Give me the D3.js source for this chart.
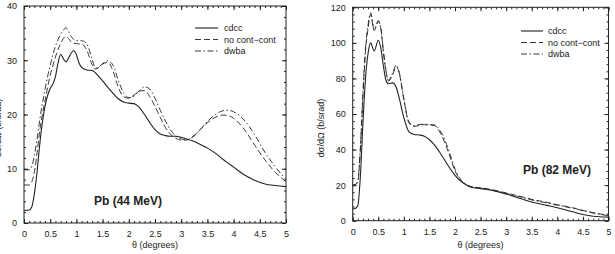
<!DOCTYPE html>
<html><head><meta charset="utf-8">
<script src="https://cdn.jsdelivr.net/npm/d3@7"></script>
<style>
html,body{margin:0;padding:0;background:#fff;}
svg{display:block;}
text{font-family:"Liberation Sans",Arial,Helvetica,sans-serif;fill:#222;}
</style></head>
<body>
<svg id="c" width="615" height="254"></svg>
<script>
// ---- data: Pb 44 MeV ----
const theta44 = [0,0.1,0.15,0.2,0.25,0.3,0.35,0.4,0.45,0.5,0.55,0.6,0.65,0.7,0.75,0.8,0.85,0.9,0.95,1.0,1.05,1.1,1.2,1.3,1.35,1.4,1.5,1.6,1.7,1.8,1.9,2.0,2.1,2.2,2.3,2.4,2.5,2.6,2.7,2.8,2.9,3.0,3.1,3.2,3.3,3.4,3.5,3.6,3.7,3.8,3.9,4.0,4.2,4.4,4.6,4.8,5.0];
const cdcc44 = [2.3,2.4,3.0,5.5,9.5,14.5,18.5,21.5,23.5,24.8,25.6,27.0,29.5,31.1,30.3,29.7,30.4,31.3,31.8,31.0,29.5,28.7,28.2,28.1,27.8,27.3,26.2,25.0,23.9,22.9,22.3,22.1,22.0,21.3,20.0,18.5,17.2,16.4,16.1,16.0,16.0,15.8,15.5,15.2,14.8,14.3,13.8,13.2,12.5,11.7,11.0,10.3,8.9,7.9,7.2,6.9,6.7];
const noCC44 = [7.0,7.0,7.6,9.5,13.0,17.0,20.0,22.5,25.0,27.2,29.0,30.6,32.0,33.1,34.0,34.4,34.0,33.4,33.1,33.1,33.0,33.0,31.8,29.2,28.4,28.5,29.3,29.6,28.0,25.0,23.3,23.0,23.6,24.3,24.4,23.3,21.5,19.5,17.6,16.3,15.6,15.3,15.3,15.8,16.6,17.6,18.5,19.2,19.7,19.9,19.8,19.3,17.3,14.4,11.6,9.3,7.6];
const dwba44 = [9.8,9.8,10.5,12.5,15.5,19.0,22.0,24.5,27.0,29.0,31.0,32.6,33.8,34.8,35.5,36.0,35.3,34.4,33.8,33.6,33.6,33.6,33.0,30.2,28.8,28.6,29.4,29.9,29.1,26.3,24.0,23.1,23.4,24.4,25.1,24.7,23.0,20.8,18.8,17.1,16.0,15.5,15.3,15.7,16.5,17.6,18.7,19.6,20.3,20.7,20.8,20.5,19.0,16.3,13.0,10.3,8.0];

// ---- data: Pb 82 MeV ----
const theta82 = [0,0.05,0.1,0.15,0.2,0.25,0.3,0.35,0.42,0.5,0.55,0.6,0.65,0.7,0.78,0.85,0.9,1.0,1.1,1.2,1.3,1.4,1.5,1.6,1.7,1.8,1.9,2.0,2.1,2.2,2.3,2.5,2.7,3.0,3.3,3.5,3.8,4.0,4.3,4.5,4.7,5.0];
const cdcc82 = [6.5,6.8,8.5,25,55,80,94,100,95.5,101.5,97,87,79,77,77.5,75,70,58,50,48.5,48.2,47.5,45.5,42.5,38.5,34,29.5,25.5,22.5,20.5,19,18,17.2,15,12.3,10.5,8.6,7.3,5,3.5,2.5,2.0];
const noCC82 = [20,20.2,22,40,70,95,108,116,107,112,108,95,84,78.5,82,86.5,84,68,55,53,53.5,54,53.8,53.5,50,44,36,28,23,20.5,19.2,18.5,17.6,15.6,13.5,12,10.3,9,7.3,5.8,4.5,3.0];
const dwba82 = [20,20.3,22.5,41,72,97,110,117,107.5,112.5,108.5,95.5,84.5,79,83,87.5,84.5,68.5,55.5,53.5,54,54.3,54,53.8,51,45.5,37.5,29,23.5,20.8,19.3,18.3,17.3,15.3,13.2,11.7,10,8.7,7,5.6,4.3,2.8];

const seriesNames = ["cdcc","no cont\u2212cont","dwba"];
const xTicks = [0,0.5,1,1.5,2,2.5,3,3.5,4,4.5,5];
const yTicks44 = [0,10,20,30,40];
const yTicks82 = [0,20,40,60,80,100,120];
const titles = ["Pb (44 MeV)","Pb (82 MeV)"];
const xTitle = "\u03b8 (degrees)";
const yTitle = "d\u03c3/d\u03a9 (b/srad)";

const dashes = [null,"6,3","6,2.5,1.5,2.5"];
const svg = d3.select("#c");

const panels = [
  {theta:theta44, ser:[cdcc44,noCC44,dwba44], yMax:40, yTicks:yTicks44, yMinor:2,
   xr:[24,286], yr:[223,6], title:titles[0], tpos:[128,205], leg:[195,218,224,28], ylabX:1},
  {theta:theta82, ser:[cdcc82,noCC82,dwba82], yMax:120, yTicks:yTicks82, yMinor:4,
   xr:[352.7,608.5], yr:[220.7,7.3], title:titles[1], tpos:[557,174], leg:[521,543,548,31], ylabX:324}
];

panels.forEach(p=>{
  const x = d3.scaleLinear().domain([0,5]).range(p.xr);
  const y = d3.scaleLinear().domain([0,p.yMax]).range(p.yr);
  const g = svg.append("g");
  const minorX = d3.range(0,5.0001,0.1).map(v=>+v.toFixed(2));
  const minorY = d3.range(0,p.yMax+0.001,p.yMinor);

  // frame
  g.append("rect").attr("x",p.xr[0]).attr("y",p.yr[1])
   .attr("width",p.xr[1]-p.xr[0]).attr("height",p.yr[0]-p.yr[1])
   .attr("fill","none").attr("stroke","#222").attr("stroke-width",1);

  function styleAxis(sel){
    sel.select(".domain").remove();
    sel.selectAll("line").attr("stroke","#222");
    sel.selectAll("text").attr("font-size",9).attr("fill","#222");
  }
  // bottom
  g.append("g").attr("transform",`translate(0,${p.yr[0]})`)
   .call(d3.axisBottom(x).tickValues(xTicks).tickSize(-4).tickPadding(8).tickFormat(d3.format("")))
   .call(styleAxis);
  g.append("g").attr("transform",`translate(0,${p.yr[0]})`)
   .call(d3.axisBottom(x).tickValues(minorX).tickSize(-2).tickFormat(""))
   .call(styleAxis);
  // top
  g.append("g").attr("transform",`translate(0,${p.yr[1]})`)
   .call(d3.axisTop(x).tickValues(xTicks).tickSize(-4).tickFormat(""))
   .call(styleAxis);
  g.append("g").attr("transform",`translate(0,${p.yr[1]})`)
   .call(d3.axisTop(x).tickValues(minorX).tickSize(-2).tickFormat(""))
   .call(styleAxis);
  // left
  g.append("g").attr("transform",`translate(${p.xr[0]},0)`)
   .call(d3.axisLeft(y).tickValues(p.yTicks).tickSize(-4).tickPadding(7).tickFormat(d3.format("")))
   .call(styleAxis);
  g.append("g").attr("transform",`translate(${p.xr[0]},0)`)
   .call(d3.axisLeft(y).tickValues(minorY).tickSize(-2).tickFormat(""))
   .call(styleAxis);
  // right
  g.append("g").attr("transform",`translate(${p.xr[1]},0)`)
   .call(d3.axisRight(y).tickValues(p.yTicks).tickSize(-4).tickFormat(""))
   .call(styleAxis);
  g.append("g").attr("transform",`translate(${p.xr[1]},0)`)
   .call(d3.axisRight(y).tickValues(minorY).tickSize(-2).tickFormat(""))
   .call(styleAxis);

  // titles
  g.append("text").attr("x",(p.xr[0]+p.xr[1])/2).attr("y",248)
   .attr("text-anchor","middle").attr("font-size",9).text(xTitle);
  g.append("text").attr("transform",`translate(${p.ylabX},128) rotate(-90)`)
   .attr("text-anchor","middle").attr("font-size",9).text(yTitle);

  // curves
  const line = d3.line().curve(d3.curveMonotoneX);
  p.ser.forEach((vals,i)=>{
    g.append("path")
     .attr("d", line(p.theta.map((t,k)=>[x(t),y(vals[k])])))
     .attr("fill","none").attr("stroke","#222")
     .attr("stroke-width", i===0?1.1:0.9)
     .attr("stroke-dasharray", dashes[i]);
  });

  // legend
  const [lx0,lx1,tx,ly] = p.leg;
  seriesNames.forEach((n,i)=>{
    const yy = ly + i*11.5;
    g.append("line").attr("x1",lx0).attr("x2",lx1).attr("y1",yy).attr("y2",yy)
     .attr("stroke","#222").attr("stroke-width",i===0?1.1:0.9).attr("stroke-dasharray",dashes[i]);
    g.append("text").attr("x",tx).attr("y",yy+3.2).attr("font-size",9).text(n);
  });

  // annotation
  g.append("text").attr("x",p.tpos[0]).attr("y",p.tpos[1])
   .attr("text-anchor","middle").attr("font-size",12).attr("font-weight","bold").text(p.title);
});
</script>
</body></html>
